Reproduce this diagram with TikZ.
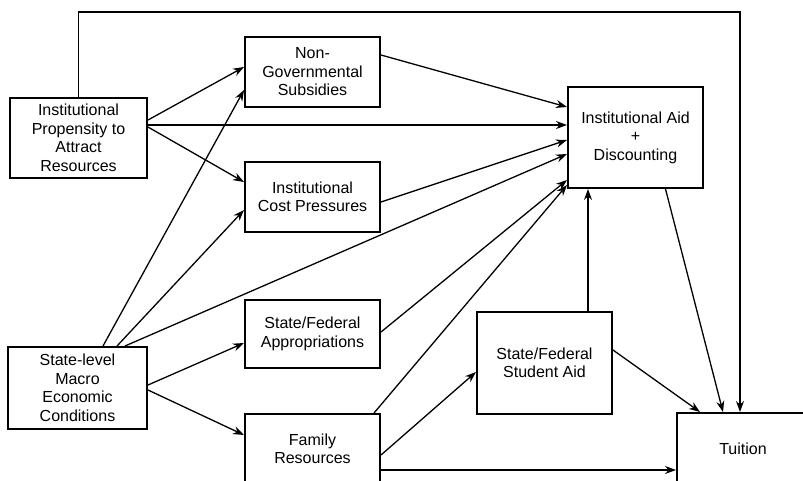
\documentclass[tikz,border=0pt]{standalone}
\usepackage{fontspec}
\setmainfont{Liberation Sans}
\usepackage{tikz}
\usetikzlibrary{arrows.meta,positioning}

\begin{document}
\begin{tikzpicture}[x=1pt,y=-1pt,>={Stealth[length=11pt,width=8pt]}]
\tikzset{b/.style={draw,line width=2pt,minimum width=135pt,minimum height=70pt,align=center,inner sep=2pt,font=\fontsize{16}{18.5}\selectfont},
  c/.style={->,line width=1.3pt}}
\useasboundingbox (0,0) rectangle (803,480);
\node[b,minimum width=137pt,minimum height=80pt] (ipar) at (78.5,138) {Institutional\\Propensity to\\Attract\\Resources};
\node[b] (ngs) at (312.5,72) {Non-\\Governmental\\Subsidies};
\node[b,below=53pt of ngs] (icp) {Institutional\\Cost Pressures};
\node[b,minimum height=101pt] (iad) at (635.5,137.5) {Institutional Aid\\+\\Discounting};
\node[b,minimum width=139pt,minimum height=82pt] (smec) at (77.5,388) {State-level\\Macro\\Economic\\Conditions};
\node[b,minimum height=68pt] (sfa) at (312.5,334) {State/Federal\\Appropriations};
\node[b,below=44pt of sfa] (fam) {Family\\Resources};
\node[b,minimum height=102pt] (sfsa) at (544.5,363) {State/Federal\\Student Aid};
\node[b,minimum width=132pt,minimum height=72pt] (tui) at (743,449) {Tuition};
\coordinate (loop) at (740,12);
\draw[c] ([yshift=18pt]ipar.east) -- ([yshift=5pt]ngs.west);
\draw[c] ([yshift=13pt]ipar.east) -- ([yshift=13pt]ipar.east -| iad.west);
\draw[c] ([yshift=11pt]ipar.east) -- ([yshift=15pt]icp.west);
\draw[c] ([xshift=25.5pt]smec.north) -- ([yshift=-18pt]ngs.west);
\draw[c] ([xshift=39.5pt]smec.north) -- ([yshift=-13pt]icp.west);
\draw[c] ([xshift=47.5pt]smec.north) -- ([yshift=-16.5pt]iad.west);
\draw[c] ([yshift=3pt]smec.east) -- ([yshift=-9pt]sfa.west);
\draw[c] ([yshift=-2pt]smec.east) -- ([yshift=14pt]fam.west);
\draw[c] ([yshift=17pt]ngs.east) -- ([yshift=30.5pt]iad.west);
\draw[c] ([yshift=-5pt]icp.east) -- ([yshift=-2.5pt]iad.west);
\draw[c] ([yshift=2pt]sfa.east) -- ([yshift=-42.5pt]iad.west);
\draw[c] ([xshift=-7pt]fam.north east) -- ([yshift=4pt]iad.south west);
\draw[c] ([yshift=-6pt]fam.east) -- ([yshift=-9pt]sfsa.west);
\draw[c] ([yshift=-21pt]fam.east) -- ([yshift=-21pt]fam.east -| tui.west);
\draw[c] ([xshift=43.5pt]sfsa.north) -- ([xshift=43.5pt]sfsa.north |- iad.south);
\draw[c] ([yshift=13pt]sfsa.east) -- ([xshift=-43pt]tui.north);
\draw[c] ([xshift=30pt]iad.south) -- ([xshift=-20pt]tui.north);
\draw[c] (ipar.north) |- (loop) -- (loop |- tui.north);
\end{tikzpicture}
\end{document}
